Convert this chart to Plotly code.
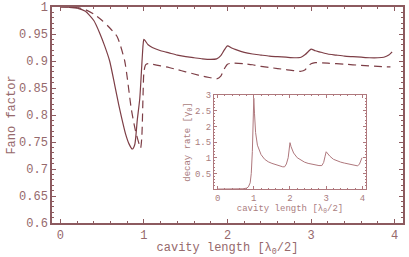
import plotly.graph_objects as go

# Main curves: Fano factor vs cavity length
solid_x = [0, 0.1, 0.2, 0.3, 0.4, 0.47, 0.53, 0.59, 0.65, 0.7, 0.73, 0.78, 0.82, 0.86, 0.89, 0.92,
           0.95, 0.97, 0.99, 1.0, 1.05, 1.1, 1.2, 1.3, 1.4, 1.5, 1.6, 1.7, 1.8, 1.87, 1.92, 1.96,
           2.0, 2.05, 2.1, 2.2, 2.3, 2.4, 2.5, 2.6, 2.7, 2.8, 2.88, 2.93, 2.97, 3.0, 3.05, 3.1,
           3.2, 3.3, 3.4, 3.5, 3.6, 3.7, 3.8, 3.87, 3.93, 3.97]
solid_y = [1.0, 0.9995, 0.998, 0.992, 0.975, 0.952, 0.928, 0.9, 0.856, 0.818, 0.797, 0.765, 0.747,
           0.737, 0.745, 0.79, 0.83, 0.88, 0.93, 0.94, 0.93, 0.925, 0.919, 0.915, 0.911, 0.908,
           0.906, 0.904, 0.903, 0.904, 0.91, 0.92, 0.928, 0.924, 0.921, 0.916, 0.913, 0.911,
           0.909, 0.908, 0.907, 0.906, 0.907, 0.912, 0.918, 0.922, 0.919, 0.917, 0.913, 0.911,
           0.909, 0.908, 0.907, 0.906, 0.906, 0.907, 0.911, 0.917]

dashed_x = [0, 0.1, 0.2, 0.3, 0.4, 0.5, 0.58, 0.68, 0.77, 0.85, 0.9, 0.96, 0.975, 0.99, 1.0, 1.02,
            1.05, 1.1, 1.2, 1.3, 1.4, 1.5, 1.6, 1.7, 1.8, 1.87, 1.92, 1.96, 2.0, 2.05, 2.2, 2.3,
            2.4, 2.5, 2.6, 2.7, 2.8, 2.88, 2.93, 2.97, 3.0, 3.05, 3.2, 3.4, 3.6, 3.8, 3.9, 3.95]
dashed_y = [1.0, 1.0, 0.999, 0.995, 0.987, 0.975, 0.963, 0.945, 0.9, 0.81, 0.77, 0.739, 0.76,
            0.84, 0.88, 0.893, 0.895, 0.894, 0.891, 0.888, 0.884, 0.88, 0.876, 0.872, 0.869,
            0.867, 0.872, 0.885, 0.894, 0.896, 0.895, 0.893, 0.89, 0.888, 0.886, 0.884, 0.882,
            0.881, 0.884, 0.891, 0.895, 0.897, 0.896, 0.894, 0.892, 0.89, 0.889, 0.889]

# Inset: decay rate
inset_x = [0, 0.5, 0.7, 0.8, 0.85, 0.9, 0.93, 0.96, 0.98, 1.0, 1.02, 1.05, 1.1, 1.2, 1.3, 1.4,
           1.5, 1.6, 1.7, 1.8, 1.85, 1.9, 1.95, 1.98, 2.0, 2.03, 2.1, 2.2, 2.3, 2.4, 2.5, 2.6,
           2.7, 2.8, 2.88, 2.93, 2.97, 3.0, 3.05, 3.1, 3.2, 3.3, 3.4, 3.5, 3.6, 3.7, 3.8, 3.87,
           3.92, 3.96, 3.99]
inset_y = [0.0, 0.0, 0.01, 0.03, 0.07, 0.2, 0.5, 1.2, 2.0, 2.9, 2.4, 1.8, 1.4, 1.1, 0.95, 0.87,
           0.82, 0.78, 0.74, 0.71, 0.71, 0.8, 1.0, 1.3, 1.48, 1.35, 1.15, 1.0, 0.92, 0.86, 0.82,
           0.79, 0.77, 0.75, 0.75, 0.85, 1.05, 1.19, 1.12, 1.05, 0.95, 0.9, 0.86, 0.83, 0.8,
           0.78, 0.76, 0.74, 0.8, 0.9, 1.0]

main_ticks_x = [0, 1, 2, 3, 4]
main_ticks_y = [0.6, 0.65, 0.7, 0.75, 0.8, 0.85, 0.9, 0.95, 1]
main_ticktext_y = ["0.6", "0.65", "0.7", "0.75", "0.8", "0.85", "0.9", "0.95", "1"]
inset_ticks_y = [0.5, 1, 1.5, 2, 2.5, 3]
inset_ticktext_y = ["0.5", "1", "1.5", "2", "2.5", "3"]

LINE = "rgb(125,62,70)"
INSET_LINE = "rgb(175,120,125)"
AXIS = "rgb(140,90,95)"
TEXT = "rgb(150,105,108)"
INSET_TEXT = "rgb(170,125,128)"
FONT = "Liberation Mono"

fig = go.Figure()
fig.add_trace(go.Scatter(x=solid_x, y=solid_y, mode="lines",
                         line=dict(color=LINE, width=1.2, shape="spline", smoothing=0.6),
                         xaxis="x", yaxis="y"))
fig.add_trace(go.Scatter(x=dashed_x, y=dashed_y, mode="lines",
                         line=dict(color=LINE, width=1.2, dash="8px,5px", shape="spline",
                                   smoothing=0.6),
                         xaxis="x", yaxis="y"))
fig.add_trace(go.Scatter(x=inset_x, y=inset_y, mode="lines",
                         line=dict(color=INSET_LINE, width=1), xaxis="x2", yaxis="y2"))

common = dict(showline=True, linecolor=AXIS, linewidth=1.5, mirror="allticks",
              ticks="inside", tickcolor=AXIS, showgrid=False, zeroline=False, automargin=False)

fig.update_layout(
    width=409, height=257,
    margin=dict(l=52, r=6, t=7, b=34),
    paper_bgcolor="white", plot_bgcolor="white",
    showlegend=False,
    font=dict(family=FONT, color=TEXT, size=12),
    xaxis=dict(domain=[0, 1], range=[-0.1, 4.1], tickvals=main_ticks_x, ticklen=4,
               tickfont=dict(size=12, color=TEXT),
               minor=dict(ticks="inside", dtick=0.2, ticklen=2, tickcolor=AXIS),
               title=dict(text="cavity length [λ<sub>0</sub>/2]", font=dict(size=12, color=TEXT),
                          standoff=5),
               **common),
    yaxis=dict(domain=[0, 1], range=[0.6, 1.0], tickvals=main_ticks_y, ticktext=main_ticktext_y,
               ticklen=4, tickfont=dict(size=12, color=TEXT),
               minor=dict(ticks="inside", dtick=0.01, ticklen=2, tickcolor=AXIS),
               title=dict(text="Fano factor", font=dict(size=12, color=TEXT), standoff=1),
               **common),
    xaxis2=dict(domain=[0.4615, 0.8946], range=[-0.1, 4.1], anchor="y2",
                tickvals=main_ticks_x, ticklen=3, tickfont=dict(size=9, color=INSET_TEXT),
                minor=dict(ticks="inside", dtick=0.2, ticklen=1.5, tickcolor=INSET_LINE),
                title=dict(text="cavity length [λ<sub>0</sub>/2]",
                           font=dict(size=9, color=INSET_TEXT), standoff=0),
                showline=True, linecolor=INSET_LINE, linewidth=1, mirror="allticks",
                ticks="inside", tickcolor=INSET_LINE, showgrid=False, zeroline=False,
                automargin=False),
    yaxis2=dict(domain=[0.157, 0.5926], range=[0, 3.0], anchor="x2",
                tickvals=inset_ticks_y, ticktext=inset_ticktext_y, ticklen=3,
                tickfont=dict(size=9, color=INSET_TEXT),
                minor=dict(ticks="inside", dtick=0.1, ticklen=1.5, tickcolor=INSET_LINE),
                title=dict(text="decay rate [γ<sub>0</sub>]", font=dict(size=9, color=INSET_TEXT),
                           standoff=2),
                showline=True, linecolor=INSET_LINE, linewidth=1, mirror="allticks",
                ticks="inside", tickcolor=INSET_LINE, showgrid=False, zeroline=False,
                automargin=False),
)

fig.write_html("out.html", config={"displayModeBar": False},
               post_script="document.body.style.margin='0';")
